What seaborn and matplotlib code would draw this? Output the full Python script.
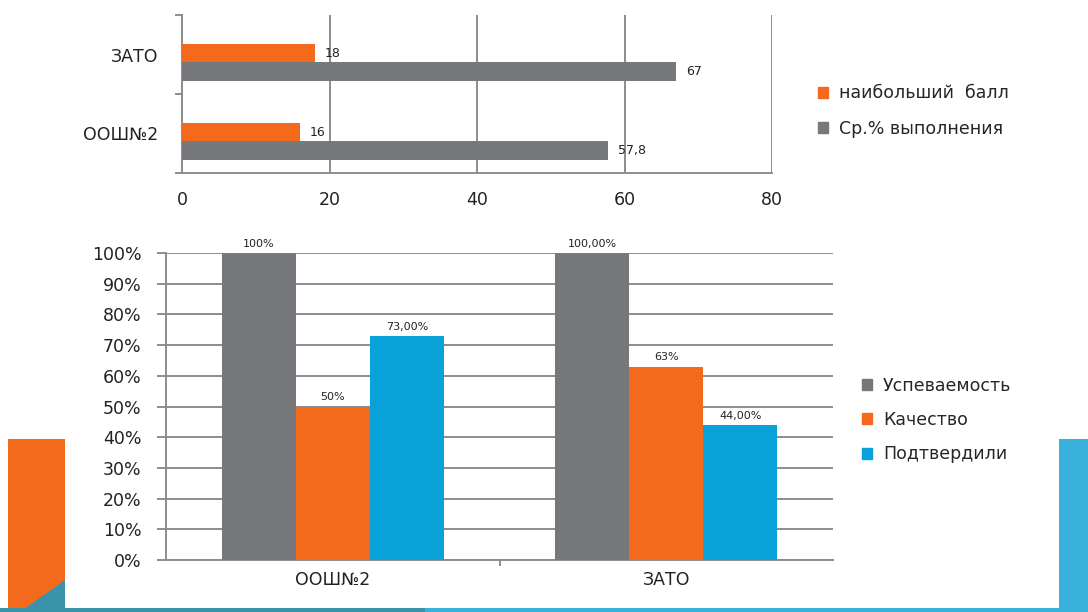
import pandas as pd
import seaborn as sns
import matplotlib.pyplot as plt
from matplotlib.patches import Rectangle, Polygon
from matplotlib.ticker import FuncFormatter

# --- data ---
top_schools = ['ЗАТО', 'ООШ№2']
top_series = ['наибольший  балл', 'Ср.% выполнения']
top_max_score = [18, 16]
top_avg_pct = [67, 57.8]
top_max_labels = ['18', '16']
top_avg_labels = ['67', '57,8']

bottom_schools = ['ООШ№2', 'ЗАТО']
bottom_series = ['Успеваемость', 'Качество', 'Подтвердили']
success = [100, 100]
quality = [50, 63]
confirmed = [73, 44]
success_labels = ['100%', '100,00%']
quality_labels = ['50%', '63%']
confirmed_labels = ['73,00%', '44,00%']

ORANGE = '#f46a1d'
GREY = '#77787b'
BLUE = '#08a1d8'
GRID = '#8c8c8c'

sns.set_theme(style='white')
plt.rcParams['font.family'] = ['DejaVu Sans']

W, H = 1088, 612
fig = plt.figure(figsize=(W / 100, H / 100), dpi=100)


def px(x0, y0, x1, y1):
    # pixel box (top-left origin) -> figure fraction rect
    return [x0 / W, 1 - y1 / H, (x1 - x0) / W, (y1 - y0) / H]


# slide decoration
def deco(patch):
    patch.set_transform(fig.transFigure)
    fig.patches.append(patch)


deco(Rectangle((8 / W, 0), 57 / W, (H - 439) / H, color=ORANGE, lw=0))
deco(Polygon([(20 / W, 0), (65 / W, (H - 580) / H), (65 / W, 0)], closed=True, color='#3a93ab', lw=0))
deco(Rectangle((1059 / W, 0), 29 / W, (H - 439) / H, color='#3ab0dc', lw=0))
deco(Rectangle((0, 0), 425 / W, 4 / H, color='#3a93ab', lw=0))
deco(Rectangle((425 / W, 0), 1 - 425 / W, 4 / H, color='#3ab0dc', lw=0))

# --- top chart: horizontal bars ---
top_df = pd.DataFrame({
    'school': top_schools * 2,
    'series': [top_series[0]] * 2 + [top_series[1]] * 2,
    'value': top_max_score + top_avg_pct,
})
ax1 = fig.add_axes(px(182, 15, 772, 173))
sns.barplot(data=top_df, y='school', x='value', hue='series', order=top_schools,
            hue_order=top_series, palette=[ORANGE, GREY], orient='h',
            width=0.46, gap=0, saturation=1, linewidth=0, ax=ax1, legend=False, zorder=3)
ax1.set_xlim(0, 80)
# Excel draws the bar pair a little below the middle of each category band
ax1.set_ylim(1.4, -0.6)
ax1.set_xticks([0, 20, 40, 60, 80])
ax1.set_yticks([-0.1, 0.9], labels=top_schools)
ax1.set_xlabel('')
ax1.set_ylabel('')
ax1.grid(axis='x', color=GRID, lw=1.4, zorder=0)
ax1.set_axisbelow(True)
for s in ['top', 'right']:
    ax1.spines[s].set_visible(False)
for s in ['left', 'bottom']:
    ax1.spines[s].set_color(GRID)
    ax1.spines[s].set_linewidth(1.4)
ax1.tick_params(axis='y', length=0, pad=17, labelsize=12.5, colors='#222222')
ax1.tick_params(axis='x', length=3, pad=10, labelsize=12.5, colors='#222222', color=GRID)
ax1.set_yticks([-0.6, 0.4, 1.4], minor=True)
ax1.tick_params(axis='y', which='minor', length=5, color=GRID, width=1.4, left=True)
for cont, labs in zip(ax1.containers, [top_max_labels, top_avg_labels]):
    ax1.bar_label(cont, labels=labs, padding=7, fontsize=9, color='#222222')

fig.legend(handles=[Rectangle((0, 0), 1, 1, color=c) for c in [ORANGE, GREY]],
           labels=top_series, loc='center left',
           bbox_to_anchor=(818 / W, 1 - 111 / H), frameon=False, fontsize=12.5,
           handlelength=0.6, handleheight=0.6, handletextpad=0.6,
           labelspacing=1.0, borderpad=0, borderaxespad=0)

# --- bottom chart: grouped columns ---
bottom_df = pd.DataFrame({
    'school': bottom_schools * 3,
    'series': [bottom_series[0]] * 2 + [bottom_series[1]] * 2 + [bottom_series[2]] * 2,
    'value': success + quality + confirmed,
})
ax2 = fig.add_axes(px(166, 253, 833, 560))
sns.barplot(data=bottom_df, x='school', y='value', hue='series', order=bottom_schools,
            hue_order=bottom_series, palette=[GREY, ORANGE, BLUE],
            width=0.666, gap=0, saturation=1, linewidth=0, ax=ax2, legend=False, zorder=3)
ax2.set_ylim(0, 100)
ax2.set_xlim(-0.5, 1.5)
ax2.set_yticks(range(0, 101, 10))
ax2.yaxis.set_major_formatter(FuncFormatter(lambda v, p: f'{v:.0f}%'))
ax2.set_xlabel('')
ax2.set_ylabel('')
ax2.grid(axis='y', color=GRID, lw=1.4, zorder=0)
ax2.set_axisbelow(True)
for s in ['top', 'right']:
    ax2.spines[s].set_visible(False)
for s in ['left', 'bottom']:
    ax2.spines[s].set_color(GRID)
    ax2.spines[s].set_linewidth(1.4)
ax2.tick_params(axis='y', length=6.5, width=1.4, color=GRID, pad=11, labelsize=12.5,
                colors='#222222', left=True)
ax2.tick_params(axis='x', length=0, pad=8, labelsize=12.5, colors='#222222')
ax2.set_xticks([0.5], minor=True)
ax2.tick_params(axis='x', which='minor', length=4, width=1.4, color=GRID, bottom=True)
for cont, labs in zip(ax2.containers, [success_labels, quality_labels, confirmed_labels]):
    ax2.bar_label(cont, labels=labs, padding=3, fontsize=8, color='#222222')

fig.legend(handles=[Rectangle((0, 0), 1, 1, color=c) for c in [GREY, ORANGE, BLUE]],
           labels=bottom_series, loc='center left',
           bbox_to_anchor=(862 / W, 1 - 420 / H), frameon=False, fontsize=12.5,
           handlelength=0.6, handleheight=0.6, handletextpad=0.6,
           labelspacing=0.95, borderpad=0, borderaxespad=0)

fig.savefig('out.png', dpi=100)
